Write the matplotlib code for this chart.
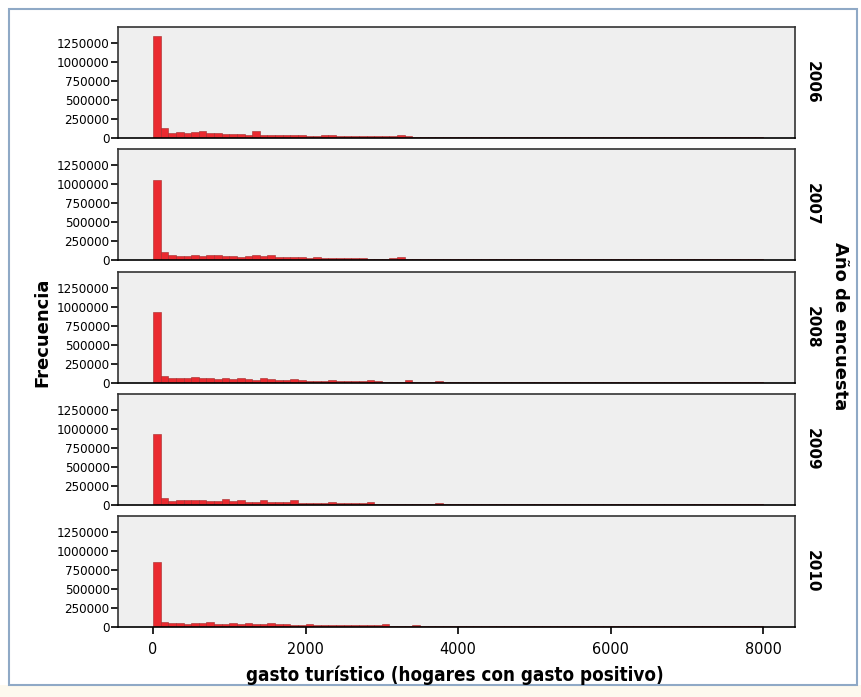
import matplotlib
matplotlib.use("Agg")
import matplotlib.pyplot as plt
from matplotlib.patches import Rectangle
import numpy as np

# histogram counts in thousands, bins of 100 from 0 to 8000
years = ["2006", "2007", "2008", "2009", "2010"]
bin_width = 100

counts_2006 = [1340, 130, 70, 85, 65, 80, 95, 70, 60, 55,
               55, 50, 45, 95, 45, 40, 45, 40, 35, 35,
               30, 30, 40, 35, 30, 28, 25, 25, 25, 22,
               20, 22, 40, 20, 18, 15, 15, 14, 14, 14,
               12, 12, 12, 11, 11, 11, 10, 10, 10, 10,
               10, 10, 10, 10, 10, 10, 10, 10, 10, 10,
               9, 9, 9, 9, 9, 9, 9, 9, 9, 9,
               9, 9, 9, 9, 9, 9, 9, 9, 8, 8]
counts_2007 = [1050, 110, 60, 50, 55, 60, 55, 60, 65, 50,
               55, 45, 50, 65, 55, 60, 45, 40, 35, 35,
               30, 35, 25, 25, 22, 20, 20, 20, 18, 18,
               18, 20, 40, 18, 15, 14, 14, 14, 12, 12,
               12, 12, 11, 11, 11, 10, 10, 10, 10, 10,
               10, 10, 10, 10, 10, 10, 10, 10, 10, 10,
               9, 9, 9, 9, 9, 9, 9, 9, 9, 9,
               9, 9, 9, 9, 9, 9, 9, 9, 8, 8]
counts_2008 = [940, 90, 60, 70, 60, 85, 70, 60, 55, 65,
               50, 70, 50, 45, 60, 55, 40, 40, 55, 35,
               30, 30, 30, 40, 25, 22, 22, 22, 35, 20,
               18, 18, 18, 35, 15, 14, 14, 28, 14, 12,
               12, 12, 11, 11, 11, 10, 10, 10, 10, 10,
               10, 10, 10, 10, 10, 10, 10, 10, 10, 10,
               9, 9, 9, 9, 9, 9, 9, 9, 9, 9,
               9, 9, 9, 9, 9, 9, 9, 9, 8, 8]
counts_2009 = [940, 90, 55, 60, 60, 65, 70, 55, 50, 85,
               50, 70, 45, 40, 60, 40, 35, 35, 65, 30,
               30, 25, 25, 40, 22, 20, 20, 20, 45, 18,
               15, 15, 15, 15, 14, 14, 14, 28, 12, 12,
               12, 12, 11, 11, 11, 10, 10, 10, 10, 10,
               10, 10, 10, 10, 10, 10, 10, 10, 10, 10,
               9, 9, 9, 9, 9, 9, 9, 9, 9, 9,
               9, 9, 9, 9, 9, 9, 9, 9, 8, 8]
counts_2010 = [860, 60, 50, 55, 45, 55, 50, 60, 45, 45,
               50, 40, 50, 40, 45, 50, 35, 35, 30, 30,
               45, 25, 25, 25, 30, 22, 20, 20, 20, 20,
               40, 18, 15, 15, 22, 14, 14, 14, 12, 12,
               12, 12, 11, 11, 11, 10, 10, 10, 10, 10,
               16, 10, 10, 10, 10, 10, 10, 10, 10, 10,
               9, 9, 9, 9, 9, 9, 9, 9, 9, 9,
               9, 9, 9, 9, 9, 9, 9, 9, 8, 8]
all_counts = [counts_2006, counts_2007, counts_2008, counts_2009, counts_2010]

yticks = [0, 250000, 500000, 750000, 1000000, 1250000]
xticks = [0, 2000, 4000, 6000, 8000]

W, H = 862, 697
fig = plt.figure(figsize=(W / 100, H / 100), dpi=100)
fig.patch.set_facecolor("white")

# outer frame like the source document
fig.patches.append(Rectangle((0, 0), 1, 12 / H, transform=fig.transFigure,
                             facecolor="#fdf9ee", edgecolor="none", zorder=0))
fig.patches.append(Rectangle((9 / W, 12 / H), 848 / W, 676 / H, transform=fig.transFigure,
                             facecolor="none", edgecolor="#8fa9c6", linewidth=1.5, zorder=0))

left, right = 118, 795
tops = [27, 149, 272, 394, 516]
panel_h = 111

edges = np.arange(len(counts_2006)) * bin_width

for i, (yr, counts) in enumerate(zip(years, all_counts)):
    top = tops[i]
    ax = fig.add_axes([left / W, 1 - (top + panel_h) / H, (right - left) / W, panel_h / H])
    ax.set_facecolor("#efefef")
    ax.bar(edges, np.array(counts) * 1000, width=bin_width, align="edge",
           color="#ea2a30", edgecolor="#a32a2a", linewidth=0.4)
    ax.set_xlim(-460, 8420)
    ax.set_ylim(0, 1460000)
    ax.set_yticks(yticks)
    ax.set_yticklabels([str(v) for v in yticks], fontsize=9.5, fontstretch="condensed")
    for s in ax.spines.values():
        s.set_linewidth(1.2)
        s.set_color("#333333")
    ax.spines["bottom"].set_color("black")
    ax.tick_params(axis="y", length=5, width=1.2, pad=1)
    if i < len(years) - 1:
        ax.set_xticks([])
    else:
        ax.set_xticks(xticks)
        ax.set_xticklabels([str(v) for v in xticks], fontsize=11.5, fontstretch="condensed")
        ax.tick_params(axis="x", length=5, width=1.2, pad=6)
    ax.text(1.015, 0.5, yr, transform=ax.transAxes, rotation=-90, ha="left", va="center",
            fontsize=11, fontweight="bold")

fig.text(42 / W, 1 - 332 / H, "Frecuencia", rotation=90, ha="center", va="center",
         fontsize=13, fontweight="bold")
fig.text(840 / W, 1 - 326 / H, "Año de encuesta", rotation=-90, ha="center", va="center",
         fontsize=13, fontweight="bold")
fig.text(455 / W, 1 - 675 / H, "gasto turístico (hogares con gasto positivo)", ha="center",
         va="center", fontsize=13.5, fontweight="bold", fontstretch="condensed")

fig.savefig("out.png", dpi=100)
